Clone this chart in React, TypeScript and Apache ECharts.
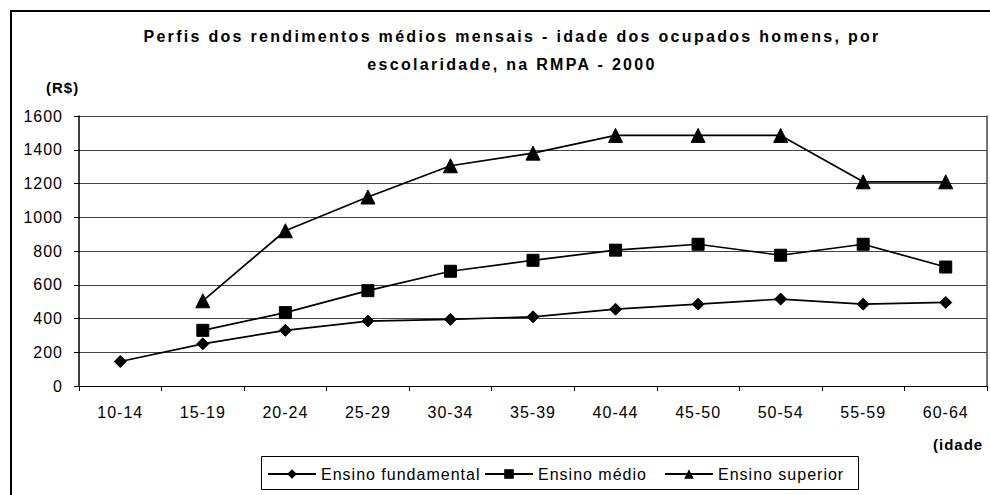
import React, { useEffect, useRef } from "react";
import * as echarts from "echarts";

const categories = ["10-14", "15-19", "20-24", "25-29", "30-34", "35-39", "40-44", "45-50", "50-54", "55-59", "60-64"];
const fundamental = [145, 250, 330, 385, 395, 410, 455, 485, 515, 485, 495];
const medio = [null, 330, 435, 565, 680, 745, 805, 840, 775, 840, 705];
const superior = [null, 505, 920, 1120, 1305, 1380, 1485, 1485, 1485, 1210, 1210];
const seriesNames = ["Ensino fundamental", "Ensino médio", "Ensino superior"];
const yTicks = { min: 0, max: 1600, interval: 200 };

const FONT = "'Liberation Sans', Arial, sans-serif";
const TITLE_FONT = "'Liberation Sans', Arimo, sans-serif";

const css = `
#chart-root svg text { letter-spacing: 1px; }
#chart-root svg text[style*="Arimo"] { letter-spacing: 2.3px; }
`;

export default function App() {
  const ref = useRef<HTMLDivElement>(null);
  useEffect(() => {
    if (!ref.current) return;
    const chart = echarts.init(ref.current, null, { renderer: "svg" });
    const mk = (name: string, data: (number | null)[], symbol: string, size: number) => ({
      name,
      type: "line",
      data: data.map((v) => (v === null ? "-" : v)),
      symbol,
      symbolSize: size,
      showAllSymbol: true,
      lineStyle: { color: "#000", width: 1.7 },
      itemStyle: { color: "#000", borderColor: "#000" },
      emphasis: { disabled: true },
    });
    const legendBase = {
      top: 466,
      itemWidth: 48,
      itemHeight: 12,
      padding: 0,
      textStyle: { color: "#000", fontSize: 16, fontFamily: FONT },
      selectedMode: false,
    };
    chart.setOption({
      animation: false,
      backgroundColor: "#fff",
      textStyle: { fontFamily: FONT },
      title: {
        text: "Perfis dos rendimentos médios mensais - idade dos ocupados homens, por\nescolaridade, na RMPA - 2000",
        left: 507,
        top: 17,
        textAlign: "center",
        textStyle: { fontFamily: TITLE_FONT, fontSize: 16, fontWeight: "bold", color: "#000", lineHeight: 28 },
      },
      grid: { left: 79, right: 3, top: 116, bottom: 109, containLabel: false },
      xAxis: {
        type: "category",
        data: categories,
        boundaryGap: true,
        axisLine: { lineStyle: { color: "#000", width: 1 } },
        axisTick: { show: true, length: 5, lineStyle: { color: "#000" }, alignWithLabel: false },
        axisLabel: { color: "#000", fontSize: 16, fontFamily: FONT, margin: 18, interval: 0 },
        splitLine: { show: false },
      },
      yAxis: [
        {
          type: "value",
          min: yTicks.min,
          max: yTicks.max,
          interval: yTicks.interval,
          axisLine: { show: true, lineStyle: { color: "#000", width: 1.5 } },
          axisTick: { show: true, length: 5, lineStyle: { color: "#000" } },
          axisLabel: { color: "#000", fontSize: 16, fontFamily: FONT, margin: 16, formatter: (v: number) => String(v) },
          splitLine: { show: true, lineStyle: { color: "#444", width: 1 } },
        },
        {
          type: "value",
          position: "right",
          min: yTicks.min,
          max: yTicks.max,
          interval: yTicks.interval,
          axisLine: { show: true, lineStyle: { color: "#444", width: 1.5 } },
          axisTick: { show: false },
          axisLabel: { show: false },
          splitLine: { show: false },
        },
      ],
      legend: [
        { ...legendBase, data: [seriesNames[0]], left: 267 },
        { ...legendBase, data: [seriesNames[1]], left: 484 },
        { ...legendBase, data: [seriesNames[2]], left: 664 },
      ],
      graphic: [
        {
          type: "rect",
          shape: { x: 11, y: 11, width: 1000, height: 500 },
          style: { fill: "none", stroke: "#000", lineWidth: 2 },
          silent: true,
        },
        {
          type: "rect",
          shape: { x: 261.5, y: 456.5, width: 597, height: 33 },
          style: { fill: "none", stroke: "#000", lineWidth: 1 },
          silent: true,
        },
        {
          type: "text",
          x: 46,
          y: 87,
          style: { text: "(R$)", font: `bold 15px ${FONT}`, fill: "#000", textVerticalAlign: "middle" },
          silent: true,
        },
        {
          type: "text",
          x: 933,
          y: 444,
          style: { text: "(idade", font: `bold 15px ${FONT}`, fill: "#000", textVerticalAlign: "middle" },
          silent: true,
        },
      ],
      series: [
        mk(seriesNames[0], fundamental, "diamond", 12),
        mk(seriesNames[1], medio, "rect", 12),
        mk(seriesNames[2], superior, "triangle", 14),
      ],
    });
    return () => chart.dispose();
  }, []);
  return (
    <>
      <style>{css}</style>
      <div id="chart-root" ref={ref} style={{ width: 990, height: 495, position: "absolute", left: 0, top: 0 }} />
    </>
  );
}
